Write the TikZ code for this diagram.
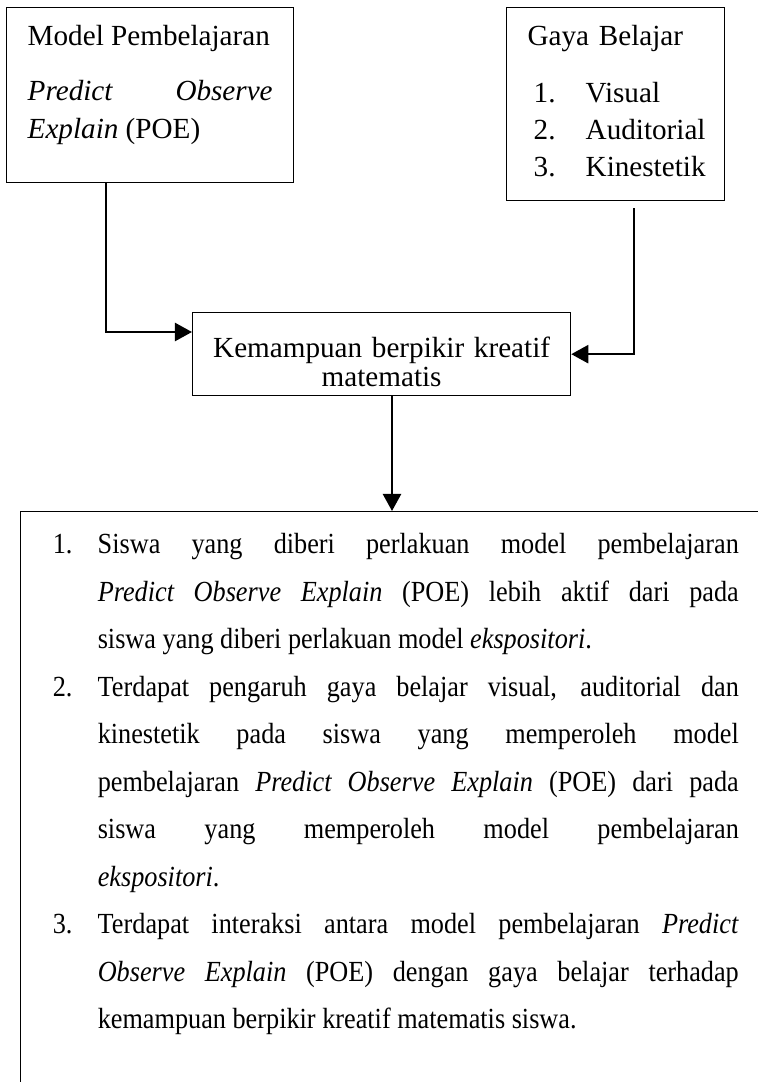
\documentclass[tikz,border=0pt]{standalone}
\usepackage{fontspec}
\setmainfont{Liberation Serif}
\newfontfamily\narrowserif[FakeStretch=0.9]{Liberation Serif}
\usepackage{tikz}
\usetikzlibrary{arrows.meta,calc}

\hyphenpenalty=10000
\exhyphenpenalty=10000
\tolerance=10000
\hbadness=10000

% numbering inside the boxes
\newcommand{\gayaitem}[1]{\hspace*{3.7pt}\makebox[21.4pt][l]{#1}}
\newcommand{\hasilitem}[1]{\noindent\llap{\makebox[18.5pt][l]{#1}}}

\begin{document}
\begin{tikzpicture}[
    x=0.4115pt, y=-0.4115pt,
    box/.style={draw, rectangle, line width=0.6pt, anchor=north west,
      inner ysep=0pt, inner xsep=8.64pt, font=\fontsize{12}{15.64}\selectfont},
    arrow/.style={-{Triangle[length=7pt, width=7.4pt]}, line width=1pt}
  ]
    \path[use as bounding box] (0,0) rectangle (758,1082);
    \clip (0,0) rectangle (758,1082);

    \node[box, text width=100.8pt, align=justify] (model) at (6,7)
      {\rule{0pt}{15.64pt}Model Pembelajaran\par\vspace{7pt}
       \emph{Predict Observe}\linebreak \emph{Explain} (POE)\rule[-18.1pt]{0pt}{18.1pt}};
    \node[box, text width=74.9pt, inner xsep=7.4pt, align=left,
      font=\fontsize{12}{15.2}\selectfont] (gaya) at (506,7)
      {\rule{0pt}{15.64pt}\hspace*{1.2pt}Gaya Belajar\\[8.25pt]
       \gayaitem{1.}Visual\\
       \gayaitem{2.}Auditorial\\
       \gayaitem{3.}Kinestetik\rule[-9.9pt]{0pt}{9.9pt}};
    \node[box, text width=139pt, inner xsep=8.23pt, align=center,
      font=\fontsize{12}{11.9}\selectfont] (kbk) at (192,312)
      {\rule{0pt}{18.5pt}Kemampuan berpikir kreatif\\matematis\rule[-3.7pt]{0pt}{3.7pt}};
    \node[box, text width=263.8pt, inner xsep=31.7pt, align=justify,
      font=\narrowserif\fontsize{12}{19.55}\selectfont] (hasil) at (20,511)
      {\hasilitem{1.}\rule{0pt}{17.3pt}Siswa yang diberi perlakuan model pembelajaran\linebreak
       \emph{Predict Observe Explain} (POE) lebih aktif dari pada\linebreak
       siswa yang diberi perlakuan model \emph{ekspositori}.\par
       \hasilitem{2.}Terdapat pengaruh gaya belajar visual, auditorial dan\linebreak
       kinestetik pada siswa yang memperoleh model\linebreak
       pembelajaran \emph{Predict Observe Explain} (POE) dari pada\linebreak
       siswa yang memperoleh model pembelajaran\linebreak
       \emph{ekspositori}.\par
       \hasilitem{3.}Terdapat interaksi antara model pembelajaran \emph{Predict}\linebreak
       \emph{Observe Explain} (POE) dengan gaya belajar terhadap\linebreak
       kemampuan berpikir kreatif matematis siswa.\rule[-40pt]{0pt}{40pt}};

    \draw[arrow] ($(model.south west)+(100,0)$) |- ($(kbk.north west)+(0,20)$);
    \draw[arrow] ($(gaya.south west)+(128,7)$) |- (kbk.east);
    \draw[arrow] ($(kbk.south west)+(200,0)$) -- ($(hasil.north west)+(372,0)$);
  \end{tikzpicture}
\end{document}
